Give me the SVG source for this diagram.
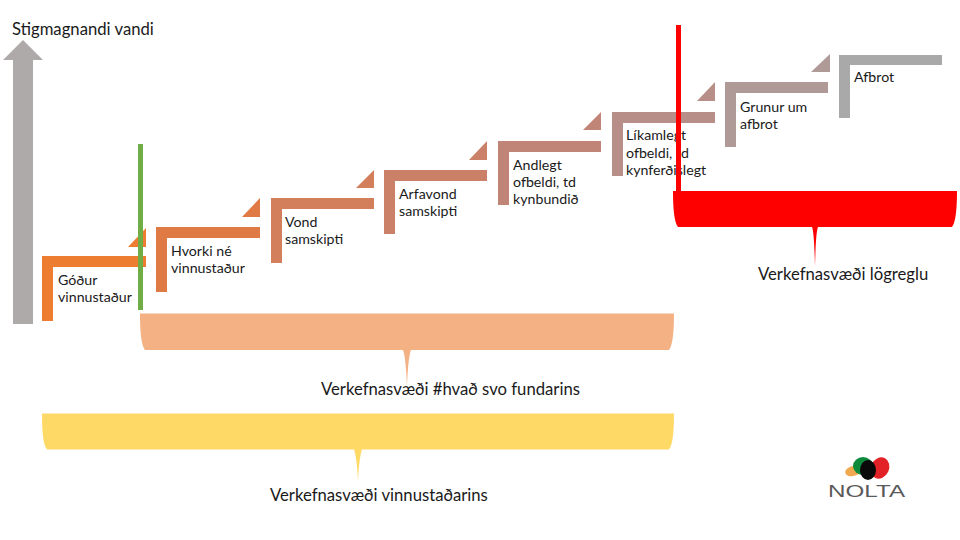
<svg xmlns="http://www.w3.org/2000/svg" width="960" height="540" viewBox="0 0 960 540">
<style>
text{font-family:"Lato","Open Sans","Liberation Sans",sans-serif;fill:#1a1a1a}
.s{font-size:14.2px}
.b{font-size:16.7px}
</style>
<rect width="960" height="540" fill="#fff"/>
<g id="axis">
<path d="M13 324V60H3L23 40L43 60H33V324Z" fill="#aeaaaa"/>
<text class="b" x="12" y="35">Stigmagnandi vandi</text>
</g>
<g id="step1"><path d="M42 321V256H146V267H53V321ZM146 228V247H128Z" fill="#ed7d31"/><text class="s"><tspan x="58" y="285">Góður</tspan><tspan x="58" y="302">vinnustaður</tspan></text></g>
<g id="step2"><path d="M156 292V227H260V238H167V292ZM260 198V217H242Z" fill="#e07a45"/><text class="s"><tspan x="171" y="256">Hvorki né</tspan><tspan x="171" y="273">vinnustaður</tspan></text></g>
<g id="step3"><path d="M271 263V198H374V209H282V263ZM374 170V188H356Z" fill="#d47f5b"/><text class="s"><tspan x="285" y="227">Vond</tspan><tspan x="285" y="244">samskipti</tspan></text></g>
<g id="step4"><path d="M384 234V170H487V181H395V234ZM487 141V160H469Z" fill="#cb8168"/><text class="s"><tspan x="399" y="199">Arfavond</tspan><tspan x="399" y="216">samskipti</tspan></text></g>
<g id="step5"><path d="M498 205V141H601V152H509V205ZM601 112V130H583Z" fill="#c08577"/><text class="s"><tspan x="513" y="170">Andlegt</tspan><tspan x="513" y="187">ofbeldi, td</tspan><tspan x="513" y="204">kynbundið</tspan></text></g>
<g id="step6"><path d="M612 176V112H715V123H623V176ZM715 82V101H697Z" fill="#b88f88"/><text class="s"><tspan x="626" y="140">Líkamlegt</tspan><tspan x="626" y="158">ofbeldi, td</tspan><tspan x="626" y="175">kynferðislegt</tspan></text></g>
<g id="step7"><path d="M725 147V82H828V93H736V147ZM830 54V72H811Z" fill="#b09a98"/><text class="s"><tspan x="740" y="112">Grunur um</tspan><tspan x="740" y="129">afbrot</tspan></text></g>
<g id="step8"><path d="M839 118V55H942V65H850V118Z" fill="#a9a9a9"/><text class="s"><tspan x="854" y="82">Afbrot</tspan></text></g>
<g id="connectors">
<rect x="138" y="144" width="5" height="166" fill="#70ad47"/>
<rect x="676" y="25" width="5" height="170" fill="#ff0000"/>
</g>
<g id="zone-police">
<path d="M673 191H957C957 207 956 222 952 227H818C816 232 815.500 250 815 266C814.500 250 814 232 812 227H678C674 222 673 207 673 191Z" fill="#ff0000"/>
<text class="b" x="758" y="280">Verkefnasvæði lögreglu</text>
</g>
<g id="zone-hvad">
<path d="M140 313.500H674C674 330 673 345 669 350H411C409 355 407.500 370 407 388C406.500 370 405 355 403 350H145C141 345 140 330 140 313.500Z" fill="#f4b183"/>
<text class="b" x="321" y="395">Verkefnasvæði #hvað svo fundarins</text>
</g>
<g id="zone-workplace">
<path d="M42 413.500H674C674 430 673 445 669 449.500H362C360 455 358.500 468 358 482C357.500 468 356 455 354 449.500H47C43 445 42 430 42 413.500Z" fill="#ffd966"/>
<text class="b" x="270" y="501">Verkefnasvæði vinnustaðarins</text>
</g>
<g id="logo">
<ellipse cx="853" cy="471" rx="8" ry="5" transform="rotate(-15 853 471)" fill="#f0a94e"/>
<ellipse cx="880" cy="468" rx="9" ry="11" transform="rotate(25 880 468)" fill="#e32228"/>
<ellipse cx="863" cy="466" rx="10" ry="9" fill="#0e8a3c"/>
<ellipse cx="868" cy="470" rx="8" ry="10" fill="#0a0a0a"/>
<text x="828" y="497" style="font-family:'Liberation Sans',sans-serif;font-size:16.500px;fill:#5a5a5a" textLength="77" lengthAdjust="spacingAndGlyphs">NOLTA</text>
</g>
</svg>
